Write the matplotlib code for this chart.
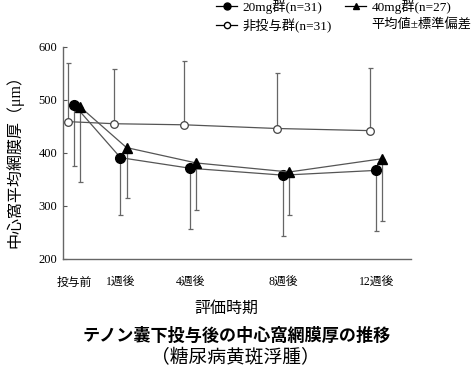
import numpy as np
import matplotlib
matplotlib.use('Agg')
import matplotlib.pyplot as plt
from matplotlib.lines import Line2D

plt.rcParams['font.family'] = ['Liberation Serif', 'Noto Sans CJK JP']

# data
periods = ['投与前', '1週後', '4週後', '8週後', '12週後']
x_pos = np.array([0, 1, 2.5, 4.5, 6.5])

ctrl_mean = [459, 455, 453, 446, 442]
ctrl_upper = [569, 558, 573, 550, 560]

mg20_mean = [491, 391, 371, 358, 367]
mg20_lower = [376, 283, 256, 243, 253]

mg40_mean = [487, 410, 381, 364, 389]
mg40_lower = [345, 315, 292, 282, 272]

line_col = '#555555'
err_col = '#666666'

fig = plt.figure(figsize=(4.73, 3.72), dpi=100)
ax = fig.add_axes([0.133, 0.304, 0.736, 0.570])

# non-dosed group, upper error only
c_err = np.array(ctrl_upper) - np.array(ctrl_mean)
ax.errorbar(x_pos, ctrl_mean, yerr=[np.zeros(5), c_err], fmt='none',
            ecolor=err_col, elinewidth=0.9, capsize=1.8, capthick=0.9, zorder=1)
ax.plot(x_pos, ctrl_mean, color=line_col, lw=0.9, marker='o', ms=5.5,
        mfc='white', mec='#444444', mew=0.9, zorder=3)

# 20mg, lower error only
x20 = x_pos + 0.13
e20 = np.array(mg20_mean) - np.array(mg20_lower)
ax.errorbar(x20, mg20_mean, yerr=[e20, np.zeros(5)], fmt='none',
            ecolor=err_col, elinewidth=0.9, capsize=1.8, capthick=0.9, zorder=1)
ax.plot(x20, mg20_mean, color=line_col, lw=0.9, marker='o', ms=7,
        mfc='black', mec='black', zorder=3)

# 40mg, lower error only
x40 = x_pos + 0.26
e40 = np.array(mg40_mean) - np.array(mg40_lower)
ax.errorbar(x40, mg40_mean, yerr=[e40, np.zeros(5)], fmt='none',
            ecolor=err_col, elinewidth=0.9, capsize=1.8, capthick=0.9, zorder=1)
ax.plot(x40, mg40_mean, color=line_col, lw=0.9, marker='^', ms=6.5,
        mfc='black', mec='black', zorder=3)

ax.set_xlim(-0.108, 7.38)
ax.set_ylim(200, 600)
ax.set_yticks([200, 300, 400, 500, 600])
ax.set_xticks(x20)
ax.set_xticklabels(periods, fontsize=8.5)
ax.tick_params(axis='x', length=0, pad=13)
ax.tick_params(axis='y', direction='in', length=3, width=0.8, color='#555555',
               labelsize=9, pad=4)

for s in ['top', 'right']:
    ax.spines[s].set_visible(False)
for s in ['left', 'bottom']:
    ax.spines[s].set_color('#666666')
    ax.spines[s].set_linewidth(1.0)

ax.set_ylabel('中心窩平均網膜厚（μm）', fontsize=11.5)
ax.yaxis.set_label_coords(-0.113, 0.476)
ax.set_xlabel('評価時期', fontsize=11.5)
ax.xaxis.set_label_coords(0.47, -0.2)

fig.text(0.5, 0.097, 'テノン囊下投与後の中心窩網膜厚の推移', ha='center', va='center',
         fontsize=12.3, fontweight='bold')
fig.text(0.497, 0.038, '（糖尿病黄斑浮腫）', ha='center', va='center', fontsize=13.5)

# legend
h20 = Line2D([], [], color='black', lw=0.9, marker='o', ms=5, mfc='black')
hc = Line2D([], [], color='black', lw=0.9, marker='o', ms=4.5, mfc='white')
h40 = Line2D([], [], color='black', lw=0.9, marker='^', ms=5, mfc='black')
hb = Line2D([], [], color='none')
fig.legend([h20, hc, h40, hb],
           ['20mg群(n=31)', '非投与群(n=31)', '40mg群(n=27)', '平均値±標準偏差'],
           ncol=2, loc='upper left', bbox_to_anchor=(0.44, 1.023), frameon=False,
           fontsize=9.5, handlelength=1.6, handletextpad=0.4, columnspacing=1.0,
           labelspacing=0.35, borderaxespad=0.2)

fig.savefig('out.png', dpi=100)
